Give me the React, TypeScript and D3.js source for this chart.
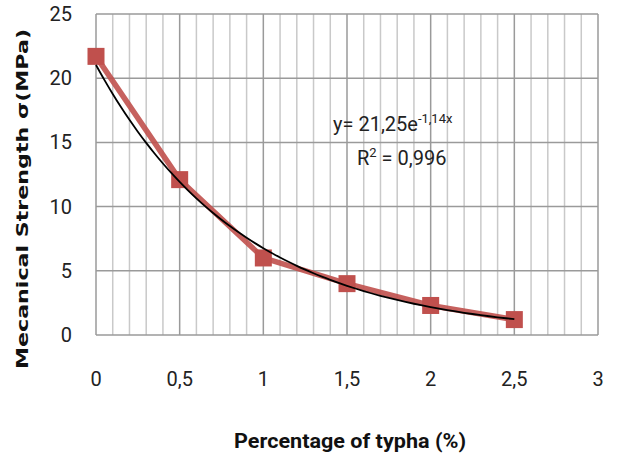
import React, { useEffect, useRef } from "react";
import * as d3 from "d3";

// measured points (percentage of typha vs mechanical strength)
const typhaPct = [0, 0.5, 1, 1.5, 2, 2.5];
const strength = [21.7, 12.1, 6.0, 4.0, 2.3, 1.2];

const xTicks = [0, 0.5, 1, 1.5, 2, 2.5, 3];
const yTicks = [0, 5, 10, 15, 20, 25];
const minorStep = 0.1;

const equationLabel = ["y= 21,25e", "-1,14x"];
const r2Label = "0,996";

const width = 617;
const height = 459;
const margin = { top: 14, right: 19, bottom: 124, left: 96 };

const App = () => {
    const svgRef = useRef<SVGSVGElement>(null);

    useEffect(() => {
        const svgEl = d3.select(svgRef.current);
        svgEl.selectAll("*").remove();

        const innerW = width - margin.left - margin.right;
        const innerH = height - margin.top - margin.bottom;
        const font = "Roboto, 'DejaVu Sans', sans-serif";

        const x = d3.scaleLinear().domain([0, 3]).range([0, innerW]);
        const y = d3.scaleLinear().domain([0, 25]).range([innerH, 0]);

        const svg = svgEl.append("g").attr("transform", `translate(${margin.left},${margin.top})`);

        // minor vertical grid
        const minor = d3.range(0, 3 + 1e-9, minorStep).filter(v => Math.abs(v * 2 - Math.round(v * 2)) > 1e-6);
        svg.append("g").selectAll("line").data(minor).enter().append("line")
            .attr("x1", d => x(d)).attr("x2", d => x(d))
            .attr("y1", 0).attr("y2", innerH)
            .attr("stroke", "#c9c9c9").attr("stroke-width", 1.5);

        // major vertical grid
        svg.append("g").selectAll("line").data(xTicks).enter().append("line")
            .attr("x1", d => x(d)).attr("x2", d => x(d))
            .attr("y1", 0).attr("y2", innerH)
            .attr("stroke", "#9a9a9a").attr("stroke-width", 1.5);

        // horizontal grid
        svg.append("g").selectAll("line").data(yTicks).enter().append("line")
            .attr("x1", 0).attr("x2", innerW)
            .attr("y1", d => y(d)).attr("y2", d => y(d))
            .attr("stroke", "#9a9a9a").attr("stroke-width", 1.5);

        // y tick labels
        svg.append("g").selectAll("text").data(yTicks).enter().append("text")
            .attr("x", -24).attr("y", d => y(d)).attr("dy", "0.35em")
            .attr("text-anchor", "end")
            .attr("font-family", font).attr("font-size", 20).attr("fill", "#222")
            .text(d => String(d));

        // x tick labels
        svg.append("g").selectAll("text").data(xTicks).enter().append("text")
            .attr("x", d => x(d)).attr("y", innerH + 51)
            .attr("text-anchor", "middle")
            .attr("font-family", font).attr("font-size", 20).attr("fill", "#222")
            .text(d => String(d).replace(".", ","));

        // data series
        const pts = typhaPct.map((v, i) => [v, strength[i]] as [number, number]);
        const line = d3.line<[number, number]>().x(d => x(d[0])).y(d => y(d[1]));
        svg.append("path").datum(pts)
            .attr("d", line)
            .attr("fill", "none").attr("stroke", "#c0504d").attr("stroke-width", 5.5)
            .attr("stroke-linejoin", "round").attr("opacity", 0.9);

        const ms = 17;
        svg.append("g").selectAll("rect").data(pts).enter().append("rect")
            .attr("x", d => x(d[0]) - ms / 2).attr("y", d => y(d[1]) - ms / 2)
            .attr("width", ms).attr("height", ms)
            .attr("fill", "#c0504d");

        // exponential trendline fitted on ln(y)
        const lnY = strength.map(v => Math.log(v));
        const mx = d3.mean(typhaPct)!;
        const my = d3.mean(lnY)!;
        const sxy = d3.sum(typhaPct, (v, i) => (v - mx) * (lnY[i] - my));
        const sxx = d3.sum(typhaPct, v => (v - mx) * (v - mx));
        const b = sxy / sxx;
        const a = Math.exp(my - b * mx);
        const trend = d3.range(0, 2.5 + 1e-9, 0.05).map(v => [v, a * Math.exp(b * v)] as [number, number]);
        svg.append("path").datum(trend)
            .attr("d", d3.line<[number, number]>().x(d => x(d[0])).y(d => y(d[1])).curve(d3.curveMonotoneX))
            .attr("fill", "none").attr("stroke", "#000").attr("stroke-width", 1.8);

        // equation labels
        const eq = svg.append("text")
            .attr("x", 237).attr("y", 117)
            .attr("font-family", font).attr("font-size", 20).attr("fill", "#222");
        eq.append("tspan").text(equationLabel[0]);
        eq.append("tspan").attr("dy", -8).attr("font-size", 13).text(equationLabel[1]);

        const r2 = svg.append("text")
            .attr("x", 261).attr("y", 151)
            .attr("font-family", font).attr("font-size", 20).attr("fill", "#222");
        r2.append("tspan").text("R");
        r2.append("tspan").attr("dy", -8).attr("font-size", 13).text("2");
        r2.append("tspan").attr("dy", 8).text(" = " + r2Label);

        // axis titles
        svgEl.append("text")
            .attr("transform", `translate(28,${margin.top + 185}) rotate(-90)`)
            .attr("text-anchor", "middle")
            .attr("font-family", "'DejaVu Sans', sans-serif").attr("font-weight", "bold")
            .attr("font-size", 16).attr("fill", "#111")
            .attr("textLength", 340).attr("lengthAdjust", "spacingAndGlyphs")
            .text("Mecanical Strength σ(MPa)");

        svgEl.append("text")
            .attr("x", 350).attr("y", 448)
            .attr("text-anchor", "middle")
            .attr("font-family", font).attr("font-weight", "bold")
            .attr("font-size", 21).attr("fill", "#111")
            .attr("textLength", 232).attr("lengthAdjust", "spacingAndGlyphs")
            .text("Percentage of typha (%)");
    }, []);

    return (
        <svg ref={svgRef} width={width} height={height}
            style={{ position: "absolute", left: 0, top: 0, background: "#fff" }} />
    );
};

export default App;
